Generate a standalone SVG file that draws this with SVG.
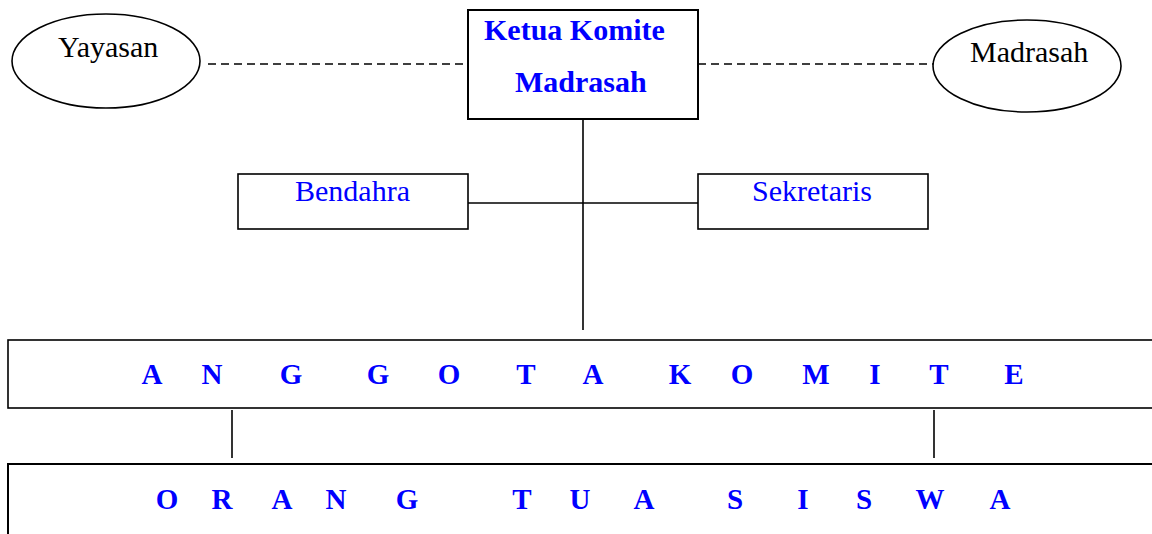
<svg xmlns="http://www.w3.org/2000/svg" width="1152" height="534" viewBox="0 0 1152 534">
  <style>
    .shape { fill: #ffffff; stroke: #000000; stroke-width: 1.6; }
    .box { fill: #ffffff; stroke: #000000; stroke-width: 2; }
    .link { stroke: #000000; stroke-width: 1.6; fill: none; }
    .dash { stroke: #000000; stroke-width: 1.5; stroke-dasharray: 8 5; fill: none; }
    .black { font-family: "Liberation Serif", "Times New Roman", serif; font-size: 30px; fill: #000000; }
    .blue { font-family: "Liberation Serif", "Times New Roman", serif; font-size: 30px; fill: #0000ff; }
    .bold { font-weight: bold; }
    .spaced { font-family: "Liberation Serif", "Times New Roman", serif; font-size: 29px; font-weight: bold; fill: #0000ff; text-anchor: middle; }
  </style>

  <!-- connectors -->
  <g id="connectors">
    <line class="dash" x1="208" y1="64" x2="468" y2="64"/>
    <line class="dash" x1="698" y1="64" x2="933" y2="64"/>
    <line class="link" x1="583" y1="119" x2="583" y2="330"/>
    <line class="link" x1="465" y1="203" x2="698" y2="203"/>
    <line class="link" x1="232" y1="410" x2="232" y2="458"/>
    <line class="link" x1="934" y1="410" x2="934" y2="458"/>
  </g>

  <g id="yayasan">
    <ellipse class="shape" cx="106" cy="61" rx="94" ry="47"/>
    <text class="black" x="58" y="57">Yayasan</text>
  </g>

  <g id="ketua">
    <rect class="box" x="468" y="10" width="230" height="109"/>
    <text class="blue bold" x="484" y="40">Ketua Komite</text>
    <text class="blue bold" x="515" y="92">Madrasah</text>
  </g>

  <g id="madrasah">
    <ellipse class="shape" cx="1027" cy="66" rx="94" ry="46"/>
    <text class="black" x="970" y="62">Madrasah</text>
  </g>

  <g id="bendahara">
    <rect class="shape" x="238" y="174" width="230" height="55"/>
    <text class="blue" x="295" y="201">Bendahra</text>
  </g>

  <g id="sekretaris">
    <rect class="shape" x="698" y="174" width="230" height="55"/>
    <text class="blue" x="752" y="201">Sekretaris</text>
  </g>

  <g id="anggota">
    <rect class="shape" x="8" y="340" width="1160" height="68"/>
    <text class="spaced" y="384">
      <tspan x="152">A</tspan><tspan x="212">N</tspan><tspan x="291">G</tspan><tspan x="378">G</tspan><tspan x="449">O</tspan><tspan x="526">T</tspan><tspan x="593">A</tspan><tspan x="680">K</tspan><tspan x="742">O</tspan><tspan x="816">M</tspan><tspan x="875">I</tspan><tspan x="939">T</tspan><tspan x="1014">E</tspan>
    </text>
  </g>

  <g id="orang-tua">
    <rect class="box" x="8" y="464" width="1160" height="90"/>
    <text class="spaced" y="509">
      <tspan x="167">O</tspan><tspan x="222">R</tspan><tspan x="282">A</tspan><tspan x="336">N</tspan><tspan x="407">G</tspan><tspan x="522">T</tspan><tspan x="580">U</tspan><tspan x="644">A</tspan><tspan x="735">S</tspan><tspan x="803">I</tspan><tspan x="864">S</tspan><tspan x="930">W</tspan><tspan x="1000">A</tspan>
    </text>
  </g>
</svg>
